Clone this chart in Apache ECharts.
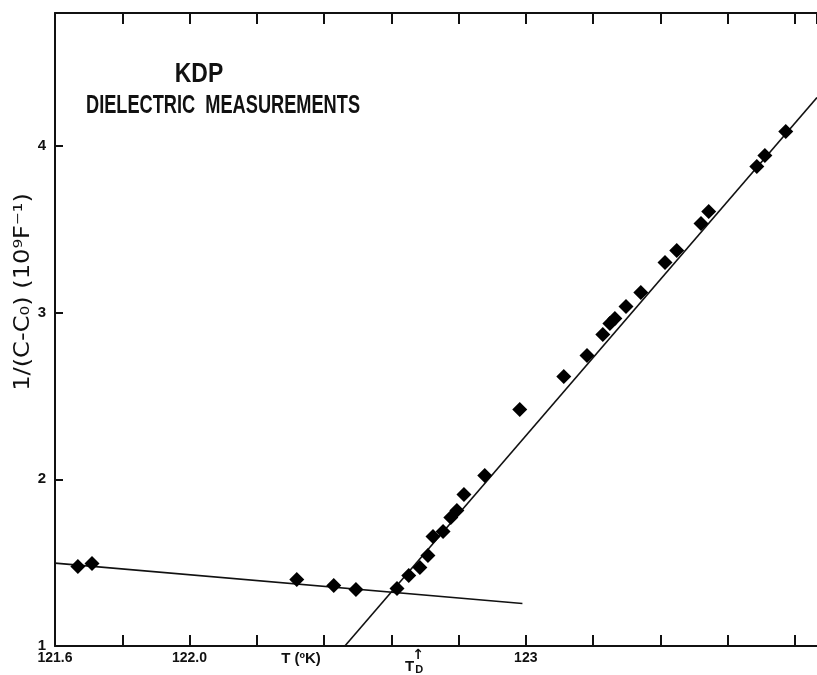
<!DOCTYPE html>
<html lang="en">
<head>
<meta charset="UTF-8">
<title>KDP dielectric measurements</title>
<script src="https://cdn.jsdelivr.net/npm/echarts@6/dist/echarts.min.js"></script>
<style>
    html, body {
        margin: 0;
        padding: 0;
        background: #fff;
    }

    #myEchart {
        width: 817px;
        height: 675px;
    }
</style>
</head>
<body>
<div id="myEchart"></div>
<script>
    // measured points: T (K) and 1/(C-C0) (10^9 F^-1)
    var tempK = [121.668, 121.710, 122.319, 122.429, 122.495, 122.617, 122.652, 122.685, 122.709, 122.724,
        122.754, 122.777, 122.795, 122.816, 122.878, 122.982, 123.113, 123.182, 123.229, 123.250,
        123.265, 123.298, 123.342, 123.414, 123.449, 123.521, 123.544, 123.687, 123.711, 123.773];
    var invCap = [1.477, 1.495, 1.399, 1.363, 1.339, 1.345, 1.423, 1.471, 1.543, 1.657,
        1.687, 1.771, 1.813, 1.909, 2.023, 2.419, 2.617, 2.743, 2.869, 2.935,
        2.965, 3.037, 3.121, 3.301, 3.373, 3.534, 3.606, 3.876, 3.942, 4.086];

    // the two straight fits (end points)
    var fitLowT = [121.6, 122.99];
    var fitLowY = [1.497, 1.255];
    var fitHighT = [122.462, 123.866];
    var fitHighY = [1.0, 4.29];

    // tick labels that are printed on the axes
    var xTickLabels = { '121.6': '121.6', '122.0': '122.0', '123.0': '123' };
    var yTickLabels = ['1', '2', '3', '4'];
    var tD = 122.68;

    var xMin = 121.6, xMax = 123.866, yMin = 1, yMax = 4.797;
    var ink = '#111';
    var font = 'Liberation Sans';

    function pairs(xs, ys) {
        var out = [];
        for (var i = 0; i < xs.length; i++) out.push([xs[i], ys[i]]);
        return out;
    }

    var myChart = echarts.init(document.getElementById('myEchart'), null, { renderer: 'canvas' });

    var baseX = {
        type: 'value',
        min: xMin,
        max: xMax,
        interval: 0.2,
        splitLine: { show: false },
        axisLine: { show: true, onZero: false, lineStyle: { color: ink, width: 2 } },
        axisTick: { show: true, inside: true, length: 11, lineStyle: { color: ink, width: 2 } }
    };

    var option = {
        animation: false,
        backgroundColor: '#fff',
        grid: {
            left: 55,
            right: 0,
            top: 13,
            bottom: 29,
            outerBoundsMode: 'none'
        },
        xAxis: [
            Object.assign({}, baseX, {
                position: 'bottom',
                axisLabel: {
                    show: true,
                    margin: 5,
                    color: ink,
                    fontFamily: font,
                    fontWeight: 'bold',
                    fontSize: 14,
                    showMaxLabel: false,
                    formatter: function (v) {
                        return xTickLabels[v.toFixed(1)] || '';
                    }
                }
            }),
            Object.assign({}, baseX, {
                position: 'top',
                axisLabel: { show: false }
            })
        ],
        yAxis: {
            type: 'value',
            min: yMin,
            max: yMax,
            interval: 1,
            splitLine: { show: false },
            axisLine: { show: true, lineStyle: { color: ink, width: 2 } },
            axisTick: { show: true, inside: true, length: 8, lineStyle: { color: ink, width: 2 } },
            axisLabel: {
                margin: 9,
                color: ink,
                fontFamily: font,
                fontWeight: 'bold',
                fontSize: 15,
                showMaxLabel: false,
                formatter: function (v) {
                    var s = String(Math.round(v));
                    return Math.abs(v - Math.round(v)) < 1e-6 && yTickLabels.indexOf(s) >= 0 ? s : '';
                }
            }
        },
        series: [
            {
                type: 'line',
                data: pairs(fitLowT, fitLowY),
                showSymbol: false,
                symbol: 'none',
                clip: true,
                lineStyle: { color: ink, width: 1.6 },
                z: 2
            },
            {
                type: 'line',
                data: pairs(fitHighT, fitHighY),
                showSymbol: false,
                symbol: 'none',
                clip: true,
                lineStyle: { color: ink, width: 1.6 },
                z: 2
            },
            {
                type: 'scatter',
                data: pairs(tempK, invCap),
                symbol: 'diamond',
                symbolSize: 15,
                itemStyle: { color: '#000', opacity: 1 },
                z: 3
            }
        ]
    };

    myChart.setOption(option);

    // text labels placed around the plot
    var tdX = myChart.convertToPixel({ xAxisIndex: 0 }, tD);
    myChart.setOption({
        graphic: [
            {
                type: 'text', x: 199, y: 75, scaleX: 0.85,
                style: { text: 'KDP', fill: ink, font: 'bold 27px ' + font, textAlign: 'center', textVerticalAlign: 'middle' }
            },
            {
                type: 'text', x: 86, y: 106, scaleX: 0.7,
                style: { text: 'DIELECTRIC  MEASUREMENTS', fill: ink, font: 'bold 26px ' + font, textAlign: 'left', textVerticalAlign: 'middle' }
            },
            {
                type: 'text', x: 24, y: 292, rotation: Math.PI / 2, scaleX: 1.15,
                style: { text: '1/(C-C\u2080) (10\u2079F\u207B\u00B9)', fill: ink, font: '21px DejaVu Sans', textAlign: 'center', textVerticalAlign: 'middle' }
            },
            {
                type: 'text', x: 301, y: 659,
                style: { text: 'T (\u00BAK)', fill: ink, font: 'bold 15px ' + font, textAlign: 'center', textVerticalAlign: 'middle' }
            },
            {
                type: 'text', x: tdX, y: 655,
                style: { text: '\u2191', fill: ink, font: 'bold 14px DejaVu Sans', textAlign: 'center', textVerticalAlign: 'middle' }
            },
            {
                type: 'text', x: tdX - 4, y: 667,
                style: { text: 'T', fill: ink, font: 'bold 15px ' + font, textAlign: 'right', textVerticalAlign: 'middle' }
            },
            {
                type: 'text', x: tdX - 3, y: 670,
                style: { text: 'D', fill: ink, font: 'bold 11px ' + font, textAlign: 'left', textVerticalAlign: 'middle' }
            }
        ]
    });
</script>
</body>
</html>
